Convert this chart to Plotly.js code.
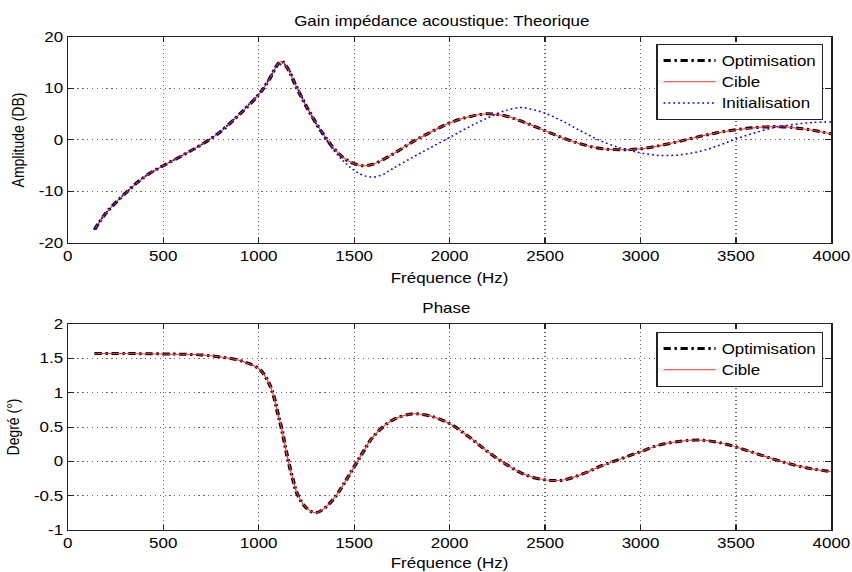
<!DOCTYPE html>
<html><head><meta charset="utf-8">
<script src="https://cdn.plot.ly/plotly-3.0.1.min.js"></script>
<style>
html,body{margin:0;padding:0;background:#fff;overflow:hidden;width:852px;height:572px}
#c{width:704px;height:572px;transform:scaleX(1.2102);transform-origin:0 0}
</style>
</head><body><div id="c"></div>
<script>
// Amplitude (dB) — Cible / Optimisation
const freqA = [140,200,300,400,500,600,700,800,900,1000,1050,1100,1120,1150,1200,1250,1300,1350,1400,1450,1500,1550,1600,1700,1800,1900,2000,2100,2200,2300,2400,2500,2600,2700,2800,2900,3000,3100,3200,3300,3400,3500,3600,3700,3800,3900,4000];
const ampCible = [-17.4,-14.2,-10.4,-7.2,-5.0,-3.0,-0.9,1.6,5.0,8.8,11.4,14.7,15.3,14.0,10.1,6.5,3.3,0.5,-1.9,-3.6,-4.6,-5.0,-4.7,-2.8,-0.5,1.5,3.3,4.5,5.1,4.6,3.3,1.8,0.3,-0.9,-1.7,-1.9,-1.7,-1.1,-0.3,0.6,1.4,2.0,2.4,2.6,2.4,1.9,1.2];
const ampOptim = [-17.4,-14.2,-10.4,-7.2,-5.0,-3.0,-0.9,1.6,5.0,8.8,11.4,14.7,15.3,14.0,10.1,6.5,3.3,0.5,-1.9,-3.6,-4.6,-5.0,-4.7,-2.8,-0.5,1.5,3.3,4.5,5.1,4.6,3.3,1.8,0.3,-0.9,-1.7,-1.9,-1.7,-1.1,-0.3,0.6,1.4,2.0,2.4,2.6,2.4,1.9,1.2];
// Amplitude (dB) — Initialisation
const freqI = [140,200,300,400,500,600,700,800,900,1000,1050,1100,1130,1150,1200,1250,1300,1350,1400,1450,1500,1550,1600,1650,1700,1800,1900,2000,2100,2200,2300,2370,2400,2500,2600,2700,2800,2900,3000,3100,3200,3300,3400,3500,3600,3700,3800,3900,4000];
const ampInit = [-17.4,-14.2,-10.4,-7.2,-5.0,-3.0,-0.9,1.7,5.2,9.0,11.6,14.4,14.7,14.2,10.4,6.6,3.2,0.3,-2.3,-4.3,-5.9,-6.9,-7.2,-6.7,-5.6,-3.5,-1.5,0.5,2.5,4.3,5.8,6.3,6.2,5.2,3.5,1.5,-0.3,-1.6,-2.5,-3.0,-2.9,-2.3,-1.2,0.2,1.4,2.4,3.0,3.4,3.5];
// Phase
const freqP = [140,300,500,600,700,800,900,1000,1050,1080,1100,1120,1150,1180,1200,1250,1300,1350,1400,1450,1500,1550,1600,1700,1800,1850,1900,2000,2100,2200,2300,2400,2500,2550,2600,2700,2800,2900,3000,3100,3200,3300,3400,3500,3600,3700,3800,3900,4000];
const phaseCible = [1.57,1.57,1.565,1.56,1.55,1.52,1.47,1.35,1.16,0.94,0.70,0.48,0.07,-0.27,-0.46,-0.68,-0.75,-0.67,-0.52,-0.31,-0.08,0.15,0.36,0.60,0.69,0.685,0.66,0.55,0.36,0.14,-0.05,-0.20,-0.27,-0.28,-0.27,-0.18,-0.06,0.04,0.14,0.24,0.29,0.31,0.28,0.21,0.12,0.03,-0.05,-0.11,-0.15];
const phaseOptim = [1.57,1.57,1.565,1.56,1.55,1.52,1.47,1.35,1.16,0.94,0.70,0.48,0.07,-0.27,-0.46,-0.68,-0.75,-0.67,-0.52,-0.31,-0.08,0.15,0.36,0.60,0.69,0.685,0.66,0.55,0.36,0.14,-0.05,-0.20,-0.27,-0.28,-0.27,-0.18,-0.06,0.04,0.14,0.24,0.29,0.31,0.28,0.21,0.12,0.03,-0.05,-0.11,-0.15];

const xTicks = [0,500,1000,1500,2000,2500,3000,3500,4000];
const ampTicks = [-20,-10,0,10,20];
const phaseTicks = [-1,-0.5,0,0.5,1,1.5,2];

const F = 'Liberation Sans, Arial, Helvetica, sans-serif';
const FS = 14;
const optLine = {color:'#000', width:3, dash:'6px,3px,2px,3px'};
const cibLine = {color:'#ff3030', width:1};
const iniLine = {color:'#0000ff', width:1.5, dash:'1.5px,2.5px'};

const traces = [
  {x:freqA, y:ampOptim, name:'Optimisation', mode:'lines', line:Object.assign({shape:'spline'},optLine), xaxis:'x', yaxis:'y', legend:'legend'},
  {x:freqA, y:ampCible, name:'Cible', mode:'lines', line:Object.assign({shape:'spline'},cibLine), xaxis:'x', yaxis:'y', legend:'legend'},
  {x:freqI, y:ampInit, name:'Initialisation', mode:'lines', line:Object.assign({shape:'spline'},iniLine), xaxis:'x', yaxis:'y', legend:'legend'},
  {x:freqP, y:phaseOptim, name:'Optimisation', mode:'lines', line:Object.assign({shape:'spline'},optLine), xaxis:'x2', yaxis:'y2', legend:'legend2'},
  {x:freqP, y:phaseCible, name:'Cible', mode:'lines', line:Object.assign({shape:'spline'},cibLine), xaxis:'x2', yaxis:'y2', legend:'legend2'}
];

const axisCommon = {
  showline:true, linecolor:'#222', linewidth:1, mirror:'ticks', ticks:'inside', ticklen:5, tickcolor:'#222',
  showgrid:true, gridcolor:'#666', griddash:'1px,3px', gridwidth:1, zeroline:false,
  tickfont:{family:F, size:FS, color:'#000'}
};
const xCommon = Object.assign({}, axisCommon, {range:[0,4000], tickmode:'array', tickvals:xTicks, ticktext:xTicks.map(String)});

const legendCommon = {xanchor:'right', yanchor:'top', bordercolor:'#222', borderwidth:1, bgcolor:'#fff',
  font:{family:F, size:FS, color:'#000'}, tracegroupgap:0, itemwidth:43};

const layout = {
  width:704, height:572, paper_bgcolor:'#fff', plot_bgcolor:'#fff',
  margin:{l:56.19, r:17.35, t:37, b:42},
  showlegend:true,
  xaxis: Object.assign({}, xCommon, {anchor:'y', title:{text:'Fréquence (Hz)', font:{family:F, size:FS, color:'#000'}, standoff:10}}),
  yaxis: Object.assign({}, axisCommon, {domain:[0.5822,1], range:[-20,20], tickmode:'array', tickvals:ampTicks, ticktext:ampTicks.map(String), anchor:'x',
    title:{text:'Amplitude (DB)', font:{family:F, size:FS, color:'#000'}, standoff:8}}),
  xaxis2: Object.assign({}, xCommon, {anchor:'y2', title:{text:'Fréquence (Hz)', font:{family:F, size:FS, color:'#000'}, standoff:8}}),
  yaxis2: Object.assign({}, axisCommon, {domain:[0,0.4178], range:[-1,2], tickmode:'array', tickvals:phaseTicks, ticktext:phaseTicks.map(String), anchor:'x2',
    title:{text:'Degré (°)', font:{family:F, size:FS, color:'#000'}, standoff:8}}),
  legend: Object.assign({}, legendCommon, {x:0.9894, y:0.9858}),
  legend2: Object.assign({}, legendCommon, {x:0.9894, y:0.4016}),
  annotations:[
    {text:'Gain impédance acoustique: Theorique', xref:'paper', yref:'paper', x:0.489, y:1, yshift:6, xanchor:'center', yanchor:'bottom', showarrow:false, font:{family:F, size:FS, color:'#000'}},
    {text:'Phase', xref:'paper', yref:'paper', x:0.4968, y:0.4178, yshift:6, xanchor:'center', yanchor:'bottom', showarrow:false, font:{family:F, size:FS, color:'#000'}}
  ]
};

Plotly.newPlot('c', traces, layout, {displayModeBar:false, staticPlot:true});
</script></body></html>
